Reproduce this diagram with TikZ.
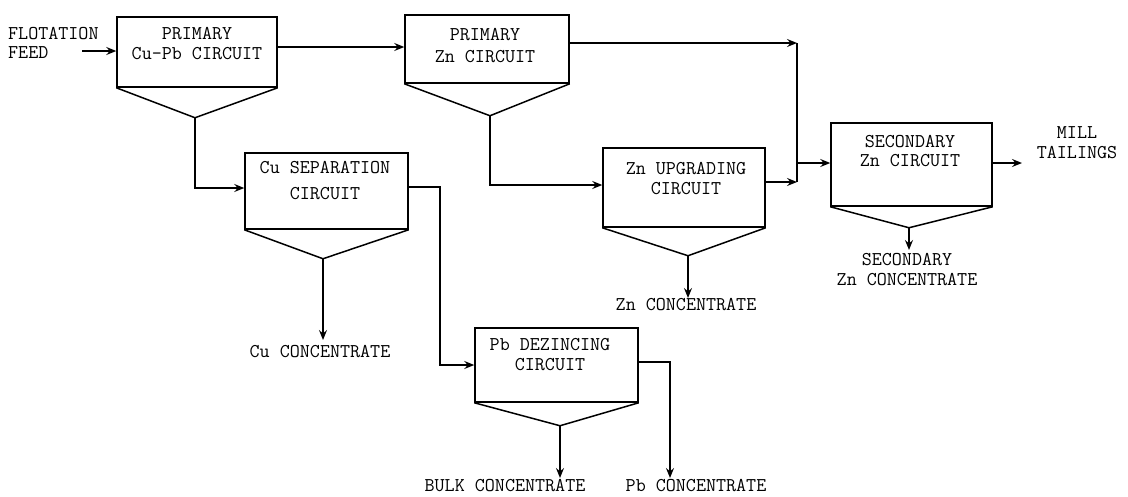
\documentclass[tikz,border=0pt]{standalone}
\usepackage{fontspec}
\usetikzlibrary{arrows.meta,calc}
\tikzset{
  box/.style={draw, line width=1.5pt, rectangle, inner sep=0pt},
  txt/.style={font=\ttfamily\fontsize{19.5}{21}\selectfont, align=center, inner sep=0pt},
  ln/.style={line width=1.5pt},
  arr/.style={line width=1.5pt, -{Stealth[length=10pt,width=8pt,inset=3.5pt]}},
}
\begin{document}
\begin{tikzpicture}[x=1pt,y=-1pt]
\useasboundingbox (0,0) rectangle (1128,496);
% boxes
\node[box, minimum width=160pt, minimum height=70pt] (p1) at (197,52) {};
\node[box, minimum width=164pt, minimum height=68pt] (p2) at (487,49) {};
\node[box, minimum width=163pt, minimum height=76pt] (cs) at (326.5,191) {};
\node[box, minimum width=162pt, minimum height=79pt] (zu) at (684,187.5) {};
\node[box, minimum width=161pt, minimum height=83pt] (sec) at (911.5,164.5) {};
\node[box, minimum width=163pt, minimum height=74pt] (pb) at (556.5,365) {};
% apexes
\coordinate (p1a) at ($(p1.south)+(-2,30)$);
\coordinate (p2a) at ($(p2.south)+(3,32)$);
\coordinate (csa) at ($(cs.south)+(-3.5,29)$);
\coordinate (zua) at ($(zu.south)+(4,28)$);
\coordinate (seca) at ($(sec.south)+(-2.5,21)$);
\coordinate (pba) at ($(pb.south)+(3.5,23)$);
\foreach \b in {p1,p2,cs,zu,sec,pb}{
  \draw[ln, line join=miter] (\b.south west) -- (\b a) -- (\b.south east);
}
% box texts
\node[txt, font=\ttfamily\fontsize{19.5}{20}\selectfont] (t1) at (197,44) {PRIMARY\\Cu-Pb CIRCUIT};
\node[txt, font=\ttfamily\fontsize{19.5}{22}\selectfont] (t2) at (485,46) {PRIMARY\\Zn CIRCUIT};
\node[txt, font=\ttfamily\fontsize{19.5}{26}\selectfont] (t3) at (325,181) {Cu SEPARATION\\CIRCUIT};
\node[txt, font=\ttfamily\fontsize{19.5}{20}\selectfont] (t4) at (686,179) {Zn UPGRADING\\CIRCUIT};
\node[txt, font=\ttfamily\fontsize{19.5}{19}\selectfont] (t5) at (910,151) {SECONDARY\\Zn CIRCUIT};
\node[txt, font=\ttfamily\fontsize{19.5}{20}\selectfont] (t6) at (550,355) {Pb DEZINCING\\CIRCUIT};
% outer labels
\node[txt, align=left, anchor=west, font=\ttfamily\fontsize{19.5}{19}\selectfont] (feedt) at (8,42.5) {FLOTATION\\FEED};
\node[txt, font=\ttfamily\fontsize{19.5}{20}\selectfont] (mill) at (1077,143) {MILL\\TAILINGS};
\node[txt, font=\ttfamily\fontsize{19.5}{20}\selectfont] (secc) at (907,270) {SECONDARY\\Zn CONCENTRATE};
\node[txt] (znc) at (686,305) {Zn CONCENTRATE};
\node[txt] (cuc) at (320,352) {Cu CONCENTRATE};
\node[txt] (bulk) at (505,486) {BULK CONCENTRATE};
\node[txt] (pbc) at (696,486) {Pb CONCENTRATE};
% junctions and free ends
\coordinate (feed) at (82,51);
\coordinate (jtop) at (797,43);
\coordinate (jbot) at (797,182);
\coordinate (jmid) at (797,163);
\coordinate (millend) at (1022,163);
\coordinate (cucend) at (323,340);
\coordinate (zncend) at (688,298);
\coordinate (secend) at (909,250);
\coordinate (bulkend) at (560,478);
\coordinate (pbend) at (670,478);
% connectors
\draw[arr] (feed) -- (feed -| p1.west);
\draw[arr] ([yshift=5pt]p1.east) -- ([yshift=5pt]p1.east -| p2.west);
\draw[arr] (p2.east |- jtop) -- (jtop);
\draw[ln] (jtop) -- (jbot);
\draw[arr] (p1a) |- (cs.west |- 0,188);
\draw[arr] (p2a) |- (zu.west |- 0,185);
\draw[arr] (zu.east |- jbot) -- (jbot);
\draw[arr] (jmid) -- (jmid -| sec.west);
\draw[arr] (sec.east |- millend) -- (millend);
\draw[arr] (seca) -- (secend);
\draw[arr] (zua) -- (zncend);
\draw[arr] (csa) -- (cucend);
\draw[arr] (cs.east |- 0,187) -| (440,300) |- (pb.west);
\draw[arr] (pba) -- (bulkend);
\draw[arr] (pb.east |- 0,362) -| (pbend);
\end{tikzpicture}
\end{document}
